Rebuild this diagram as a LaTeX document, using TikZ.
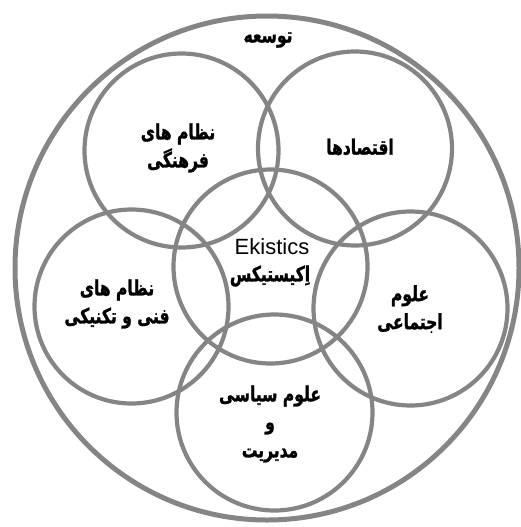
\documentclass[tikz,border=0pt]{standalone}
\usepackage{fontspec}
\setmainfont{Liberation Sans}
\newfontfamily\fafont[Script=Arabic,FakeStretch=0.74,FakeBold=1.2]{DejaVu Sans Bold}
\TeXXeTstate=1
\newcommand{\rl}[1]{{\fafont\beginR #1\endR}}
\definecolor{ringgray}{HTML}{858585}
\begin{document}
\begin{tikzpicture}[x=1pt,y=-1pt,
  ring/.style={draw=ringgray,line width=4.2pt},
  outerring/.style={draw=ringgray,line width=5pt},
  lbl/.style={align=center,font=\fontsize{21}{28}\selectfont,inner sep=0pt}]
\useasboundingbox (0,0) rectangle (520,527);
\fill[white] (0,0) rectangle (520,527);
\draw[outerring] (267,268) circle (252);
\draw[ring] (181.5,150.5) circle (97);
\draw[ring] (355,148.5) circle (97);
\draw[ring] (131.5,306.5) circle (97);
\draw[ring] (410.5,308.5) circle (97);
\draw[ring] (274.5,412.5) circle (98);
\draw[ring] (270.5,266.5) circle (97);
\node[lbl] (dev) at (268,40) {\rl{توسعه}};
\node[lbl] (cult) at (178,148) {\rl{نظام های}\\\rl{فرهنگی}};
\node[lbl] (econ) at (360,147) {\rl{اقتصادها}};
\node[lbl,font=\fontsize{22}{26}\selectfont] (eng) at (272,247) {Ekistics};
\node[lbl] (ek) at (270,276) {\rl{اِکیستیکس}};
\node[lbl] (tech) at (117,304) {\rl{نظام های}\\\rl{فنی و تکنیکی}};
\node[lbl] (soc) at (410,309) {\rl{علوم}\\\rl{اجتماعی}};
\node[lbl] (pol) at (270,424) {\rl{علوم سیاسی}\\\rl{و}\\\rl{مدیریت}};
\end{tikzpicture}
\end{document}
